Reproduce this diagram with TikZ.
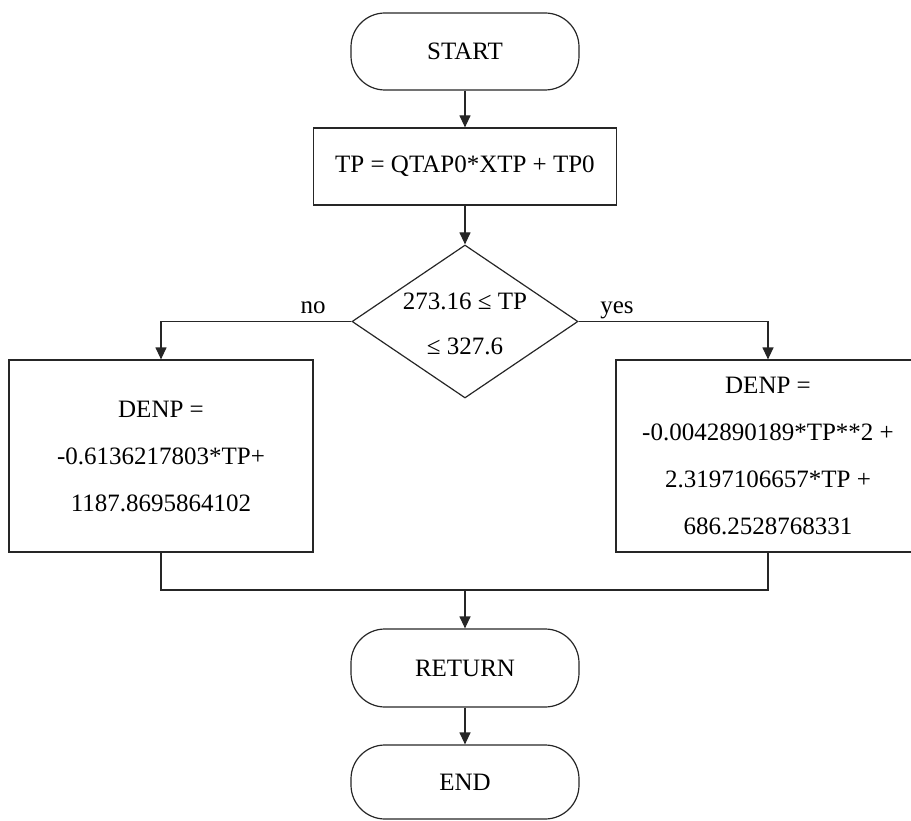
\documentclass[tikz,border=0pt]{standalone}
\usepackage{fontspec}
\setmainfont{Liberation Serif}
\usetikzlibrary{arrows.meta,shapes.geometric}
\begin{document}
\begin{tikzpicture}[x=1pt,y=-1pt,
  line/.style={draw=black!85, line width=1.2pt},
  flow/.style={line, -{Triangle[width=11pt,length=12pt]}},
  terminal/.style={line, rectangle, rounded corners=34pt, minimum width=228pt,
    inner sep=0pt, font=\fontsize{25}{30}\selectfont},
  procbox/.style={line, rectangle, inner sep=0pt, align=center,
    font=\fontsize{25}{47}\selectfont},
  decision/.style={line, diamond, minimum width=226pt, minimum height=153pt, inner sep=0pt},
  txt/.style={inner sep=0pt, align=center, font=\fontsize{25}{45}\selectfont},
  branch/.style={inner sep=0pt, anchor=base, font=\fontsize{25}{30}\selectfont}]

\useasboundingbox (0,0) rectangle (911,821);

% terminals and process boxes
\node[terminal, minimum height=77pt] (start) at (465,51.5) {START};
\node[procbox, minimum width=303pt, minimum height=77pt] (calc) at (465,166.5)
  {TP = QTAP0*XTP + TP0};
\node[decision] (test) at (465,321.5) {};
\node[txt] (testtext) at (465,324) {273.16 ≤ TP\\≤ 327.6};
\node[procbox, minimum width=304pt, minimum height=192pt] (low) at (161,456)
  {DENP =\\-0.6136217803*TP+\\1187.8695864102};
\node[procbox, minimum width=304pt, minimum height=192pt] (high) at (768,456)
  {DENP =\\-0.0042890189*TP**2 +\\2.3197106657*TP +\\686.2528768331};
\node[terminal, minimum height=78pt] (ret) at (465,668) {RETURN};
\node[terminal, minimum height=74pt] (stop) at (465,782) {END};

% branch labels
\node[branch] (nolabel) at (313,313) {no};
\node[branch] (yeslabel) at (617,313) {yes};

\coordinate (join) at (465,590);

% connectors
\draw[flow] (start) -- (calc);
\draw[flow] (calc) -- (test);
\draw[flow] (test.west) -| (low.north);
\draw[flow] (test.east) -| (high.north);
\draw[line] (low.south) |- (join) -| (high.south);
\draw[flow] (join) -- (ret);
\draw[flow] (ret) -- (stop);
\end{tikzpicture}
\end{document}
